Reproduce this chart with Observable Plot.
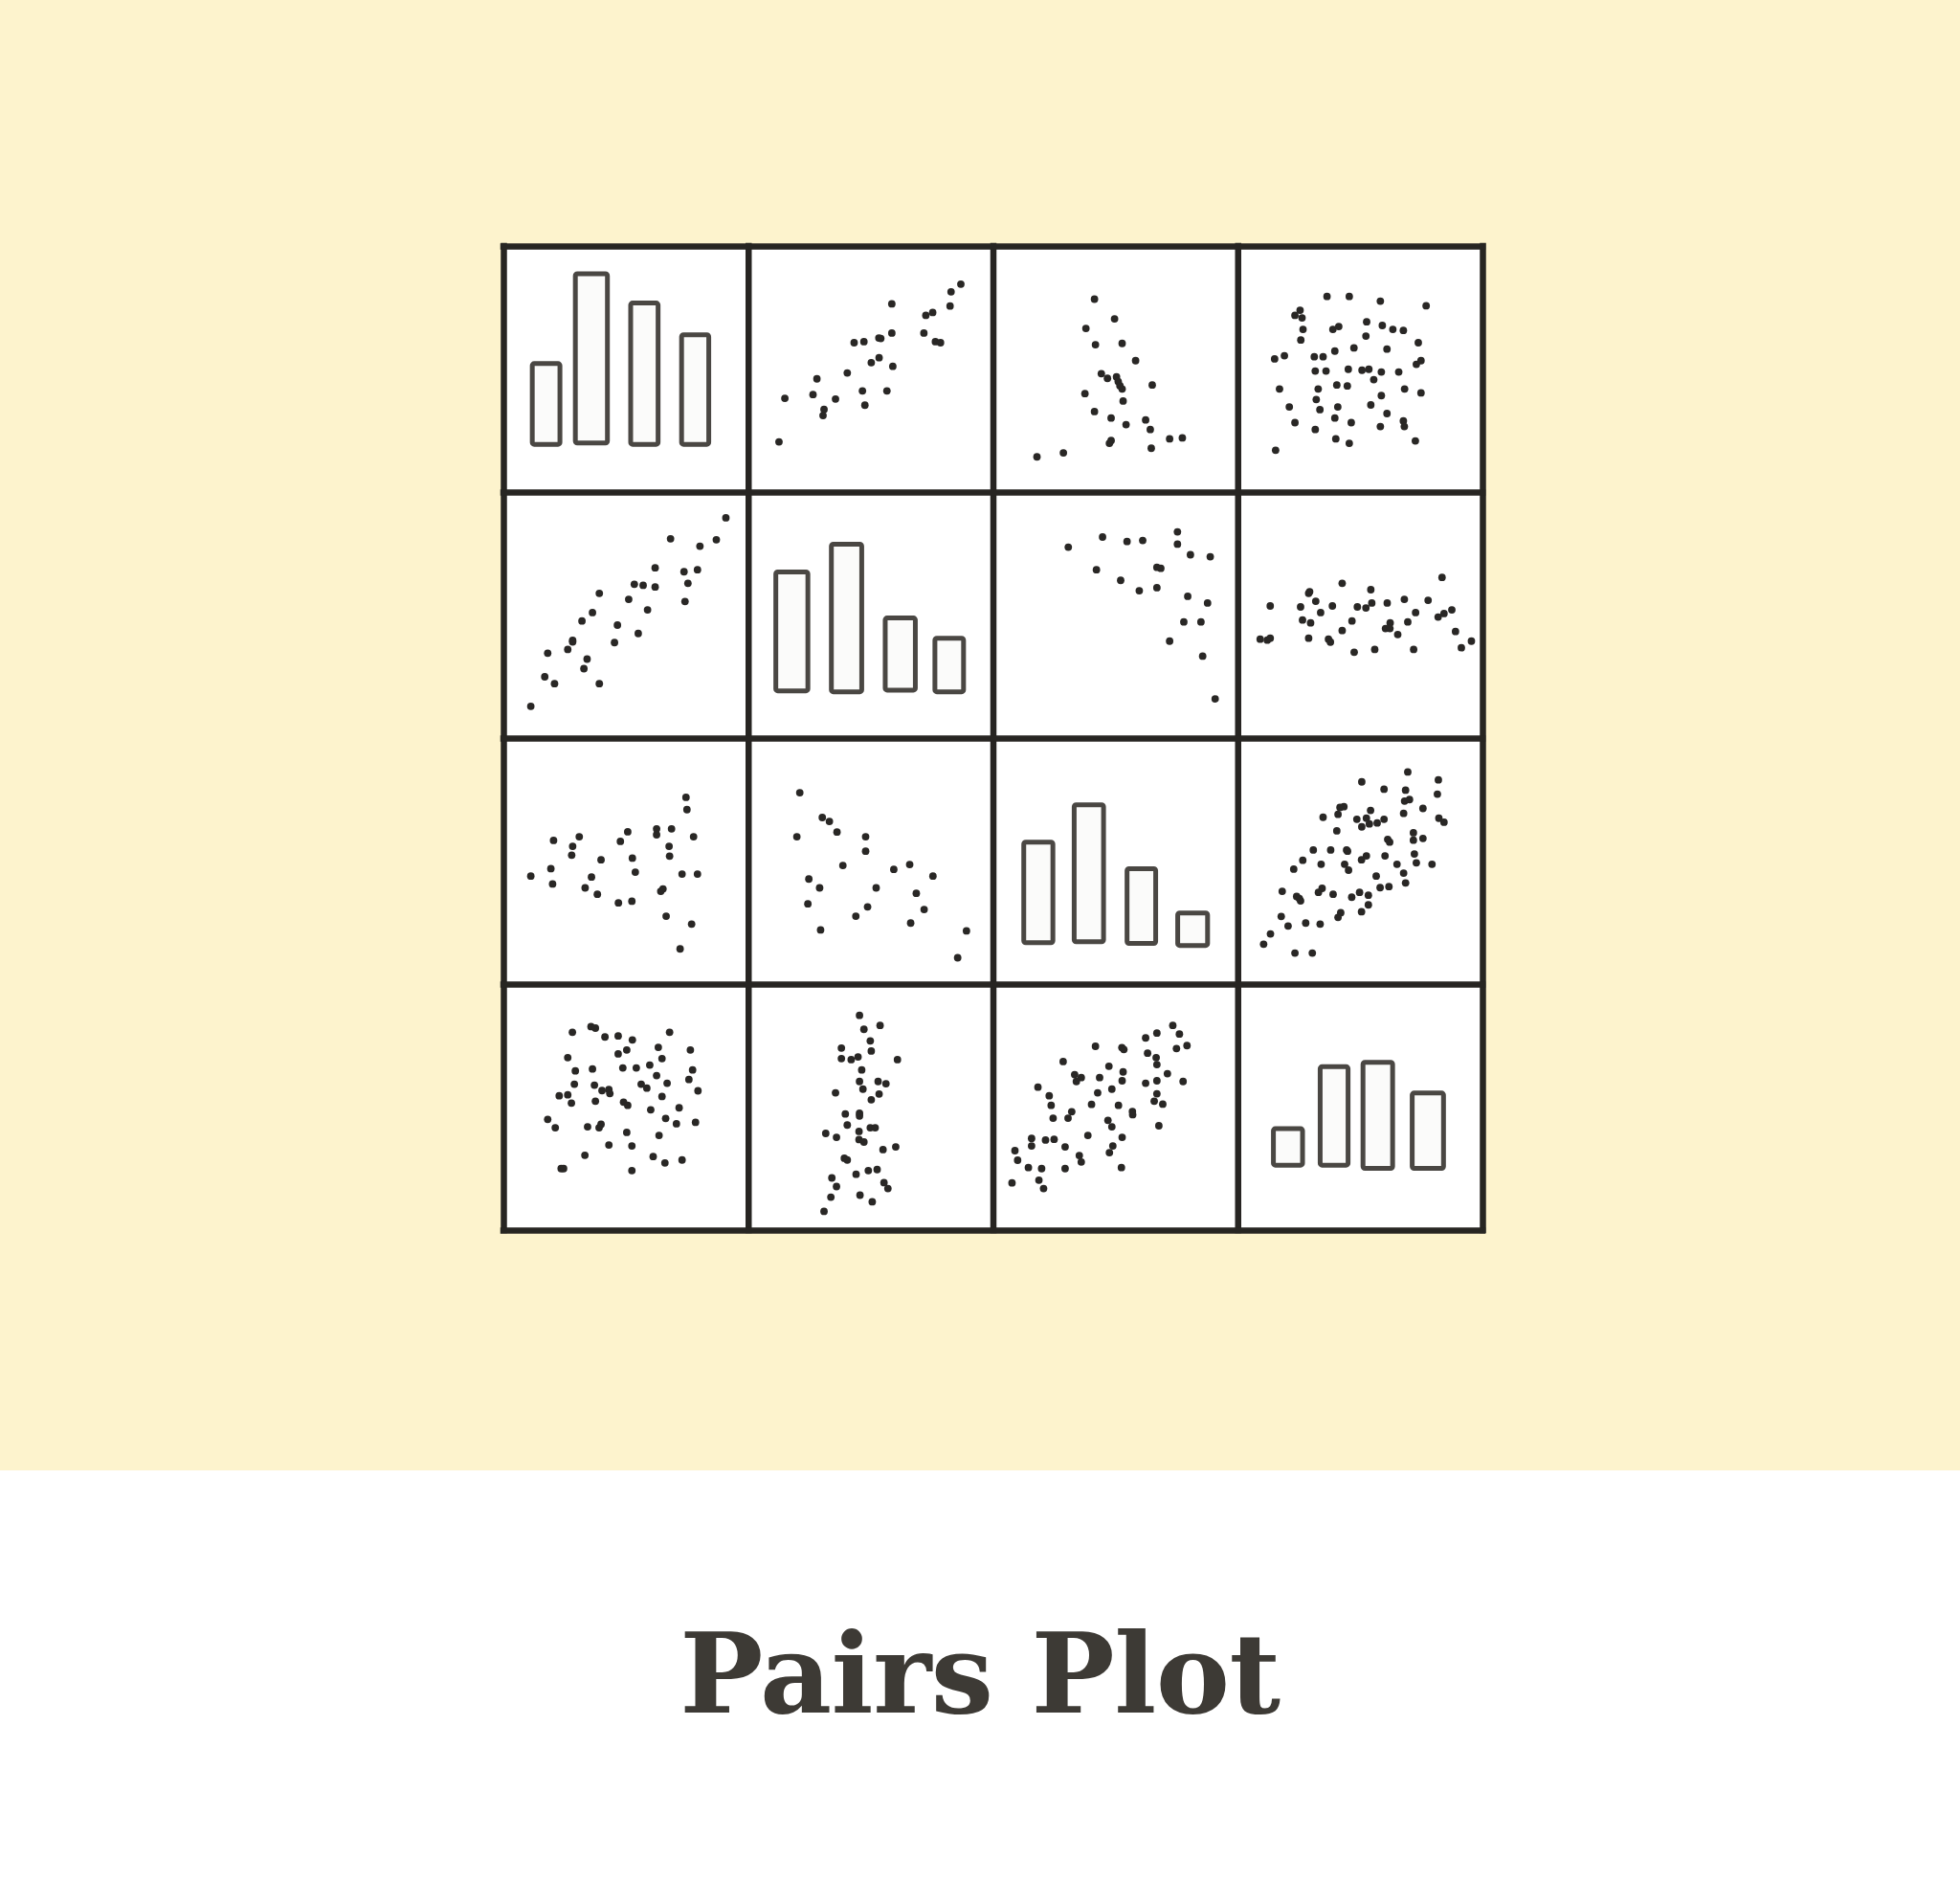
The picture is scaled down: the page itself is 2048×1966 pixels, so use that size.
<!DOCTYPE html>
<html>
<head>
<meta charset="utf-8">
<script src="https://cdn.jsdelivr.net/npm/d3@7"></script>
<script src="https://cdn.jsdelivr.net/npm/@observablehq/plot@0.6"></script>
<style>
  html, body { margin: 0; padding: 0; background: #ffffff; }
  body { width: 2048px; }
  #chart svg { display: block; }
  #title {
    height: 430px; box-sizing: border-box; padding-top: 154px;
    text-align: center; font-family: "DejaVu Serif", serif; font-weight: bold;
    font-size: 116px; line-height: 1; color: #3d3a35; letter-spacing: -0.5px;
  }
</style>
</head>
<body>
<div id="chart"></div>
<div id="title">Pairs Plot</div>
<script>
// ---- Data (each cell uses a 0–100 unit range; x from left, y from bottom) ----
const gridLines = [0, 100, 200, 300, 400];

// Histograms on the diagonal: [binStart, binEnd, baseline, top]
const hist00 = [[11.8, 23.1, 19.4, 52.2], [29.4, 42.5, 19.9, 88.7], [52.0, 63.2, 19.4, 76.8], [72.8, 83.9, 19.4, 63.9]];
const hist11 = [[11.3, 24.4, 19.2, 67.5], [34.0, 46.4, 18.8, 78.8], [56.0, 68.3, 19.5, 48.8], [76.3, 88.0, 18.8, 40.6]];
const hist22 = [[12.6, 24.5, 16.8, 57.7], [33.2, 45.2, 17.2, 72.9], [54.8, 66.5, 16.5, 46.9], [75.5, 87.7, 15.7, 28.9]];
const hist33 = [[14.6, 26.5, 26.4, 41.2], [33.7, 45.1, 26.4, 66.4], [51.2, 63.3, 25.1, 68.2], [71.3, 84.1, 25.1, 55.7]];

// Scatter cells: [x, y]
const sc01 = [[86.7,84.7],[82.7,81.6],[82.3,75.8],[58.5,76.7],[72.4,72.0],[75.2,73.2],[58.5,64.8],[71.6,64.8],[53.2,62.8],[54.0,62.6],[43.1,60.9],[47.1,61.3],[76.3,61.3],[78.4,60.9],[53.3,54.8],[50.1,52.8],[58.9,51.3],[40.3,48.6],[27.9,46.2],[46.5,41.3],[56.5,41.3],[14.8,38.3],[26.3,39.8],[35.5,38.0],[47.5,35.5],[30.8,33.8],[30.4,31.3],[12.4,20.6]];
const sc02 = [[41.3,78.6],[49.5,70.6],[37.8,66.7],[41.7,60.1],[52.6,60.6],[58.1,53.6],[44.1,48.3],[46.6,46.4],[50.3,47.0],[51.0,45.1],[51.7,43.4],[52.6,42.1],[64.9,43.7],[37.4,40.2],[53.0,37.2],[41.3,32.9],[48.1,30.3],[54.2,27.6],[62.2,29.5],[64.1,25.6],[48.1,21.1],[47.4,20.0],[64.5,18.0],[72.0,21.8],[77.2,22.2],[17.8,14.5],[28.6,16.1]];
const sc03 = [[36.3,79.7],[45.4,79.7],[58.1,77.8],[76.8,75.9],[25.3,74.1],[23.2,72.0],[26.1,71.0],[26.5,66.3],[38.7,66.3],[41.1,67.5],[52.5,69.4],[58.9,67.9],[63.2,66.3],[67.5,65.9],[52.2,63.6],[25.6,62.0],[73.6,60.9],[47.3,58.8],[39.5,57.5],[60.8,58.3],[14.9,54.3],[18.9,55.6],[31.1,55.2],[34.7,55.2],[74.7,53.6],[72.8,52.1],[31.5,49.4],[35.9,49.4],[45.0,50.1],[50.6,49.7],[53.4,50.1],[58.5,49.0],[65.6,49.0],[55.4,45.9],[16.9,42.1],[32.7,42.1],[40.3,43.7],[44.6,43.3],[68.0,42.1],[74.7,40.5],[58.5,39.4],[31.9,37.8],[20.9,34.8],[33.4,33.7],[40.7,34.8],[54.2,35.6],[60.8,32.1],[23.2,28.4],[39.5,30.3],[46.2,28.4],[67.5,29.1],[67.9,26.8],[58.1,26.8],[31.5,25.6],[39.9,21.8],[45.4,20.0],[72.4,21.0],[15.3,17.2]];
const sc10 = [[90.7,89.7],[68.1,81.2],[86.8,80.8],[80.1,78.2],[61.8,69.4],[73.6,67.8],[79.1,68.6],[75.2,63.1],[74.0,55.7],[53.3,62.7],[56.9,62.3],[61.8,61.6],[39.0,59.0],[51.0,56.6],[36.2,51.2],[31.9,47.8],[58.7,52.3],[46.4,46.1],[54.9,42.7],[28.1,39.9],[28.1,39.3],[26.1,36.2],[45.2,39.0],[17.9,34.7],[34.0,32.3],[32.7,28.4],[16.7,25.1],[20.7,22.3],[39.0,22.3],[11.0,13.1]];
const sc12 = [[30.6,77.8],[44.6,81.9],[54.6,80.1],[61.0,80.5],[75.2,84.0],[75.2,79.0],[80.5,74.7],[88.6,73.9],[42.1,68.6],[52.0,64.3],[59.6,60.1],[66.8,69.6],[68.4,69.2],[66.8,61.3],[79.4,57.8],[87.5,55.1],[77.8,47.4],[84.8,47.4],[72.0,39.6],[85.5,33.5],[90.6,16.1]];
const sc13 = [[83.3,65.5],[42.5,63.1],[54.2,60.5],[28.8,59.0],[29.2,59.7],[31.7,55.8],[13.1,53.9],[25.5,53.5],[38.5,53.9],[33.7,51.2],[48.7,53.5],[52.2,53.1],[54.6,55.1],[60.9,55.1],[67.9,56.6],[77.6,56.2],[72.5,51.2],[87.3,52.3],[84.1,50.8],[81.7,49.4],[26.3,48.2],[29.6,47.0],[46.5,47.8],[42.5,43.9],[62.1,47.0],[60.2,44.7],[62.0,44.7],[69.3,47.4],[65.2,42.3],[9.0,40.4],[11.9,40.0],[13.1,40.8],[28.8,40.8],[36.9,40.4],[37.7,39.2],[88.8,43.5],[95.3,39.6],[91.2,36.9],[47.4,35.1],[55.8,36.2],[71.7,36.2]];
const sc20 = [[74.4,76.1],[74.8,71.1],[62.4,63.3],[62.4,60.9],[68.5,63.3],[77.5,60.1],[67.5,56.2],[67.7,52.2],[50.6,62.1],[47.6,58.2],[30.8,60.1],[20.3,58.6],[28.1,56.2],[27.7,52.6],[39.7,50.7],[52.5,51.4],[53.7,45.7],[19.2,47.1],[11.0,44.1],[19.9,40.9],[35.8,43.7],[33.2,39.3],[38.2,36.7],[72.8,44.9],[79.1,44.9],[65.0,38.9],[64.1,37.9],[46.8,33.2],[52.3,33.9],[66.3,27.8],[76.7,24.6],[72.0,14.5]];
const sc21 = [[20.9,78.0],[30.1,67.9],[33.0,66.3],[36.1,62.0],[19.7,60.1],[47.8,60.1],[47.8,54.2],[38.5,48.4],[59.3,46.8],[65.8,48.8],[75.3,44.1],[24.6,42.9],[29.0,39.3],[52.1,39.3],[68.5,37.1],[24.2,32.8],[48.6,31.6],[71.7,30.5],[43.8,27.8],[66.2,25.0],[29.4,22.2],[89.0,21.8],[85.4,10.9]];
const sc23 = [[69.3,86.4],[81.8,83.2],[50.5,82.4],[59.6,79.4],[68.4,79.0],[81.4,77.4],[68.0,74.6],[70.0,75.2],[75.5,71.6],[41.6,72.0],[43.2,72.3],[40.8,69.2],[34.7,68.0],[54.1,70.8],[48.5,67.2],[52.4,67.6],[59.6,67.2],[67.6,69.6],[82.0,67.6],[84.1,66.0],[50.5,64.1],[53.6,65.3],[56.8,65.7],[40.3,62.5],[71.6,61.7],[75.5,59.4],[71.6,58.7],[61.1,59.0],[61.9,57.9],[30.7,54.7],[37.8,54.7],[44.3,54.7],[44.7,54.2],[52.4,52.3],[50.4,50.7],[60.0,52.3],[72.0,53.1],[72.8,49.5],[79.2,48.9],[26.4,50.5],[22.7,46.9],[33.9,48.9],[43.5,48.9],[45.1,46.5],[64.9,48.9],[67.6,45.3],[56.4,44.1],[68.4,41.3],[58.0,39.4],[61.6,39.8],[18.0,37.9],[23.9,35.8],[25.0,35.0],[25.5,34.0],[32.8,37.5],[34.3,39.1],[38.8,36.7],[46.4,35.5],[49.6,37.5],[53.2,36.3],[53.2,32.4],[50.4,29.6],[41.9,29.2],[40.8,27.3],[17.6,27.7],[20.4,23.8],[27.6,25.0],[33.5,24.6],[13.2,20.6],[10.4,16.4],[23.2,12.8],[30.3,12.8]];
const sc30 = [[28.0,80.6],[35.6,82.9],[37.4,82.3],[41.3,78.7],[46.7,79.1],[52.5,77.5],[67.7,80.6],[26.1,70.3],[50.2,73.4],[46.7,71.8],[63.1,74.5],[64.6,69.9],[76.2,73.4],[29.2,64.9],[36.2,65.7],[48.6,66.1],[54.1,66.1],[59.6,67.3],[62.4,63.0],[77.1,65.3],[75.6,61.4],[28.8,59.5],[37.0,59.1],[40.1,56.9],[42.9,57.3],[43.3,55.7],[56.1,59.5],[58.4,57.9],[66.7,59.9],[79.3,56.8],[22.6,54.8],[26.1,55.2],[27.6,51.8],[37.4,52.6],[48.9,52.2],[50.6,50.9],[64.6,54.5],[60.0,49.1],[71.6,49.9],[17.9,45.2],[21.0,41.8],[34.2,42.2],[38.9,41.8],[39.7,43.2],[50.2,39.9],[66.1,45.6],[70.5,43.4],[78.3,44.0],[63.4,38.7],[42.9,34.8],[52.3,34.4],[33.1,30.6],[61.0,30.1],[65.8,27.5],[72.8,28.7],[23.4,25.2],[24.4,25.2],[52.3,24.4]];
const sc31 = [[45.3,87.5],[47.1,81.8],[53.7,83.4],[49.7,77.1],[50.1,73.0],[37.9,74.2],[37.9,69.9],[41.9,69.5],[44.7,70.6],[60.8,69.5],[46.2,65.3],[45.3,60.6],[52.9,60.6],[56.1,59.7],[46.7,57.5],[35.5,56.0],[53.3,55.5],[50.1,53.2],[39.5,47.4],[45.3,47.7],[45.3,46.6],[40.3,42.9],[49.7,41.8],[51.7,41.8],[31.5,39.5],[35.9,37.9],[45.1,40.3],[45.1,37.0],[47.1,36.0],[54.9,32.9],[60.1,34.0],[39.1,29.4],[40.3,28.7],[43.9,22.9],[48.9,24.4],[52.5,24.8],[34.0,21.4],[35.9,17.9],[55.3,19.5],[56.9,17.1],[33.6,13.6],[45.5,14.4],[50.5,11.7],[30.8,7.8]];
const sc32 = [[73.3,83.4],[76.0,79.9],[79.1,75.2],[66.8,80.3],[62.2,78.3],[74.8,74.0],[41.7,74.9],[52.5,74.4],[53.3,73.6],[63.0,72.1],[66.5,70.3],[66.8,67.5],[28.5,68.7],[47.2,66.8],[33.2,63.4],[35.9,62.2],[33.9,60.6],[43.4,62.2],[53.0,64.5],[52.6,60.9],[71.1,63.8],[62.2,59.9],[66.8,60.9],[77.5,60.6],[18.2,58.3],[48.4,57.5],[42.6,56.0],[66.8,55.6],[22.8,54.8],[23.6,50.9],[40.1,51.3],[51.1,50.9],[65.7,52.6],[69.2,51.4],[32.0,48.3],[56.8,48.4],[56.9,47.1],[24.4,45.7],[30.5,45.7],[46.8,44.8],[48.4,42.2],[67.6,42.6],[38.6,38.7],[52.6,37.9],[15.6,37.5],[15.6,34.4],[21.3,36.8],[24.8,37.1],[29.3,34.0],[48.8,34.4],[47.4,31.7],[8.8,32.5],[9.9,28.6],[35.1,30.5],[35.9,27.9],[14.3,25.6],[19.7,25.2],[29.3,25.2],[52.3,25.6],[18.6,20.5],[7.6,19.4],[20.5,17.1]];

// ---- Build tables (row 0 is the top row, col 0 the left column) ----
const histCells = [
  {row: 0, col: 0, bins: hist00}, {row: 1, col: 1, bins: hist11},
  {row: 2, col: 2, bins: hist22}, {row: 3, col: 3, bins: hist33}
];
const scatterCells = [
  {row: 0, col: 1, pts: sc01}, {row: 0, col: 2, pts: sc02}, {row: 0, col: 3, pts: sc03},
  {row: 1, col: 0, pts: sc10}, {row: 1, col: 2, pts: sc12}, {row: 1, col: 3, pts: sc13},
  {row: 2, col: 0, pts: sc20}, {row: 2, col: 1, pts: sc21}, {row: 2, col: 3, pts: sc23},
  {row: 3, col: 0, pts: sc30}, {row: 3, col: 1, pts: sc31}, {row: 3, col: 2, pts: sc32}
];
const points = scatterCells.flatMap(c => c.pts.map(([u, v]) => ({x: c.col * 100 + u, y: (3 - c.row) * 100 + v})));
const bars = histCells.flatMap(c => c.bins.map(([a, b, lo, hi]) => ({
  x1: c.col * 100 + a, x2: c.col * 100 + b, y1: (3 - c.row) * 100 + lo, y2: (3 - c.row) * 100 + hi
})));

const chart = Plot.plot({
  width: 2048,
  height: 1536,
  marginLeft: 526,
  marginRight: 499,
  marginTop: 257,
  marginBottom: 251,
  style: {background: "#fdf3cd", overflow: "visible"},
  x: {domain: [0, 400], axis: null},
  y: {domain: [0, 400], axis: null},
  marks: [
    Plot.frame({fill: "#ffffff"}),
    Plot.rect(bars, {x1: "x1", x2: "x2", y1: "y1", y2: "y2", fill: "#fbfbfa", stroke: "#4a4743", strokeWidth: 5, rx: 2}),
    Plot.dot(points, {x: "x", y: "y", r: 3.9, fill: "#292725"}),
    Plot.ruleX(gridLines, {stroke: "#272522", strokeWidth: 6.5, strokeLinecap: "square"}),
    Plot.ruleY(gridLines, {stroke: "#272522", strokeWidth: 6.5, strokeLinecap: "square"})
  ]
});
document.getElementById("chart").appendChild(chart);
</script>
</body>
</html>
